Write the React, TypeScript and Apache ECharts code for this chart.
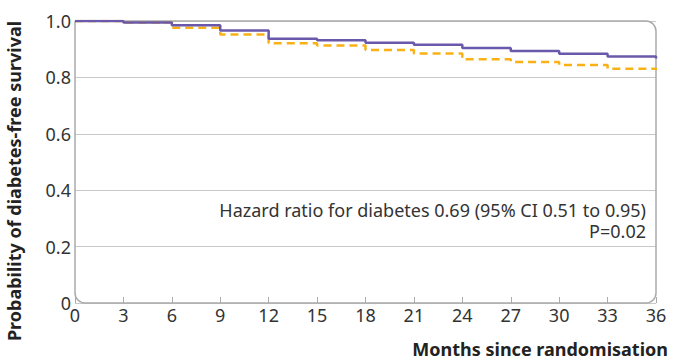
import React, { useEffect, useRef } from "react";
import * as echarts from "echarts";

const months = [0, 3, 6, 9, 12, 15, 18, 21, 24, 27, 30, 33, 36];
const metforminSurvival = [1.0, 0.995, 0.985, 0.966, 0.937, 0.932, 0.923, 0.916, 0.904, 0.894, 0.884, 0.874, 0.867];
const placeboSurvival = [1.0, 0.995, 0.976, 0.952, 0.921, 0.913, 0.897, 0.885, 0.864, 0.855, 0.844, 0.831, 0.826];
const hazardText = "Hazard ratio for diabetes 0.69 (95% CI 0.51 to 0.95)";
const pText = "P=0.02";
const xTitle = "Months since randomisation";
const yTitle = "Probability of diabetes-free survival";

const GRID = { left: 75, right: 19, top: 21, bottom: 55 };
const W = 675;
const H = 358;
const FONT = "'Noto Sans', sans-serif";

export default function App() {
  const ref = useRef<HTMLDivElement>(null);
  useEffect(() => {
    if (!ref.current) return;
    const chart = echarts.init(ref.current, null, { renderer: "svg" });
    const pw = W - GRID.left - GRID.right;
    const ph = H - GRID.top - GRID.bottom;
    chart.setOption({
      animation: false,
      grid: {
        left: GRID.left,
        right: GRID.right,
        top: GRID.top,
        bottom: GRID.bottom,
        containLabel: false,
        outerBoundsMode: "none",
      },
      xAxis: {
        type: "value",
        min: 0,
        max: 36,
        interval: 3,
        axisLine: { show: false },
        axisTick: {
          show: true,
          inside: true,
          length: 6,
          lineStyle: { color: "#aaaaaa", width: 1 },
        },
        splitLine: { show: false },
        axisLabel: {
          color: "#333",
          fontSize: 18,
          fontFamily: FONT,
          margin: 3,
          showMinLabel: true,
          showMaxLabel: true,
        },
      },
      yAxis: {
        type: "value",
        min: 0,
        max: 1,
        interval: 0.2,
        axisLine: { show: false },
        axisTick: { show: false },
        splitLine: { show: true, lineStyle: { color: "#c8c8c8", width: 1 } },
        axisLabel: {
          color: "#333",
          fontSize: 18,
          fontFamily: FONT,
          margin: 4,
          formatter: (v: number) => (v === 0 ? "0" : v.toFixed(1)),
        },
      },
      graphic: [
        {
          type: "rect",
          z: 1,
          shape: { x: GRID.left, y: GRID.top, width: pw, height: ph, r: [0, 10, 10, 10] },
          style: { fill: "none", stroke: "#aaaaaa", lineWidth: 1.5 },
          silent: true,
        },
        {
          type: "text",
          x: 646,
          y: 220,
          style: {
            text: hazardText + "\n" + pText,
            textAlign: "right",
            textVerticalAlign: "middle",
            lineHeight: 21,
            fill: "#333",
            fontSize: 18,
            fontFamily: FONT,
          },
        },
        {
          type: "text",
          x: 668,
          y: 358,
          style: { text: xTitle, textAlign: "right", textVerticalAlign: "bottom", fill: "#222", fontSize: 18, fontWeight: "bold", fontFamily: FONT },
        },
        {
          type: "text",
          x: 14,
          y: 181,
          rotation: Math.PI / 2,
          style: { text: yTitle, textAlign: "center", textVerticalAlign: "middle", fill: "#222", fontSize: 18, fontWeight: "bold", fontFamily: FONT },
        },
      ],
      series: [
        {
          type: "line",
          step: "end",
          symbol: "none",
          z: 4,
          data: months.map((m, i) => [m, placeboSurvival[i]]),
          lineStyle: { color: "#f9b116", width: 2.5, type: [8, 5] },
        },
        {
          type: "line",
          step: "end",
          symbol: "none",
          z: 5,
          data: months.map((m, i) => [m, metforminSurvival[i]]),
          lineStyle: { color: "#6a59aa", width: 2.5 },
        },
      ],
    });
    return () => chart.dispose();
  }, []);
  return <div ref={ref} style={{ width: W, height: H, position: "absolute", left: 0, top: 0 }} />;
}
